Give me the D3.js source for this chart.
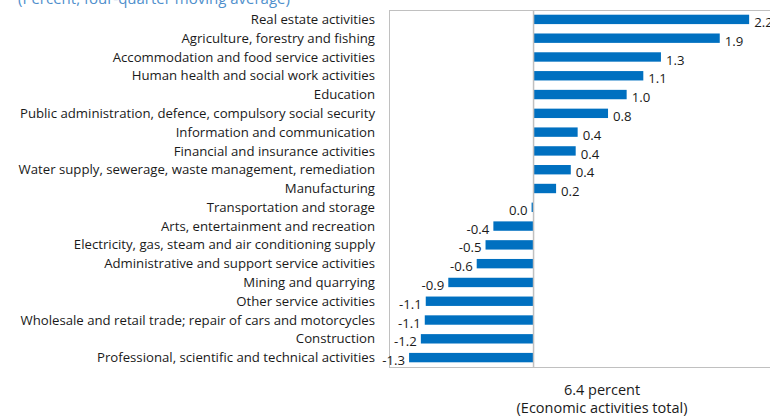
<!DOCTYPE html>
<html>
<head>
<meta charset="utf-8">
<script src="https://cdn.jsdelivr.net/npm/d3@7"></script>
<style>
  body { margin: 0; background: #fff; }
  svg text { font-family: "Open Sans", "Noto Sans", sans-serif; }
</style>
</head>
<body>
<svg id="bar-svg"></svg>
<script>
// categories, top to bottom
const categories = [
    "Real estate activities",
    "Agriculture, forestry and fishing",
    "Accommodation and food service activities",
    "Human health and social work activities",
    "Education",
    "Public administration, defence,  compulsory social security",
    "Information and communication",
    "Financial and insurance activities",
    "Water supply, sewerage, waste management, remediation",
    "Manufacturing",
    "Transportation and storage",
    "Arts, entertainment and recreation",
    "Electricity, gas, steam and air conditioning supply",
    "Administrative and support service activities",
    "Mining and quarrying",
    "Other service activities",
    "Wholesale and retail trade; repair of cars and motorcycles",
    "Construction",
    "Professional, scientific and technical activities"
];
// bar lengths
const values = [2.2, 1.9, 1.3, 1.12, 0.95, 0.76, 0.45, 0.43, 0.38, 0.23, -0.02,
    -0.41, -0.49, -0.58, -0.87, -1.1, -1.11, -1.15, -1.27];
// printed data labels
const valueLabels = ["2.2", "1.9", "1.3", "1.1", "1.0", "0.8", "0.4", "0.4", "0.4", "0.2", "0.0",
    "-0.4", "-0.5", "-0.6", "-0.9", "-1.1", "-1.1", "-1.2", "-1.3"];
const xDomain = [-1.475, 2.5];

const width = 770;
const height = 418;

const svg = d3.select("#bar-svg")
    .attr("width", width)
    .attr("height", height);

const plot = { left: 389, top: 10, bottom: 367 };

const xScale = d3.scaleLinear()
    .domain(xDomain)
    .range([plot.left, plot.left + (xDomain[1] - xDomain[0]) * 98]);

const yScale = d3.scaleBand()
    .domain(categories)
    .range([plot.top, plot.bottom])
    .paddingInner(0.5)
    .paddingOuter(0.25);

// title (cut off at the top, as in the source)
svg.append("text")
    .attr("x", 18)
    .attr("y", 4)
    .style("font-size", "15px")
    .style("fill", "#4f8fcc")
    .text("(Percent, four-quarter moving average)");

// plot frame
svg.append("rect")
    .attr("x", plot.left + 0.5)
    .attr("y", plot.top + 0.5)
    .attr("width", xScale.range()[1] - plot.left)
    .attr("height", plot.bottom - plot.top)
    .attr("fill", "none")
    .attr("stroke", "#c0c0c0")
    .attr("stroke-width", 1);

// bars
svg.selectAll(".bar")
    .data(values)
    .enter().append("rect")
    .attr("class", "bar")
    .attr("x", d => xScale(Math.min(0, d)))
    .attr("y", (d, i) => yScale(categories[i]))
    .attr("width", d => Math.abs(xScale(d) - xScale(0)))
    .attr("height", yScale.bandwidth())
    .attr("fill", "#0070c0");

// zero line
svg.append("line")
    .attr("x1", xScale(0))
    .attr("x2", xScale(0))
    .attr("y1", plot.top)
    .attr("y2", plot.bottom)
    .attr("stroke", "#c0c0c0")
    .attr("stroke-width", 1.5);

// category labels
svg.selectAll(".cat")
    .data(categories)
    .enter().append("text")
    .attr("class", "cat")
    .attr("x", 375)
    .attr("y", d => yScale(d) + yScale.bandwidth() / 2)
    .attr("dy", "0.35em")
    .attr("text-anchor", "end")
    .style("font-size", "13.2px")
    .style("fill", "#1a1a1a")
    .text(d => d);

// value labels
svg.selectAll(".val")
    .data(values)
    .enter().append("text")
    .attr("class", "val")
    .attr("x", d => d >= 0 ? xScale(d) + 5 : xScale(d) - 4)
    .attr("y", (d, i) => yScale(categories[i]) + yScale.bandwidth() / 2 + 3)
    .attr("dy", "0.35em")
    .attr("text-anchor", d => d >= 0 ? "start" : "end")
    .style("font-size", "13.2px")
    .style("fill", "#1a1a1a")
    .text((d, i) => valueLabels[i]);

// total note below the chart
svg.append("text")
    .attr("x", 602)
    .attr("y", 395)
    .attr("text-anchor", "middle")
    .style("font-size", "14.5px")
    .style("fill", "#1a1a1a")
    .text("6.4 percent");

svg.append("text")
    .attr("x", 602)
    .attr("y", 413)
    .attr("text-anchor", "middle")
    .style("font-size", "14.5px")
    .style("fill", "#1a1a1a")
    .text("(Economic activities total)");
</script>
</body>
</html>
